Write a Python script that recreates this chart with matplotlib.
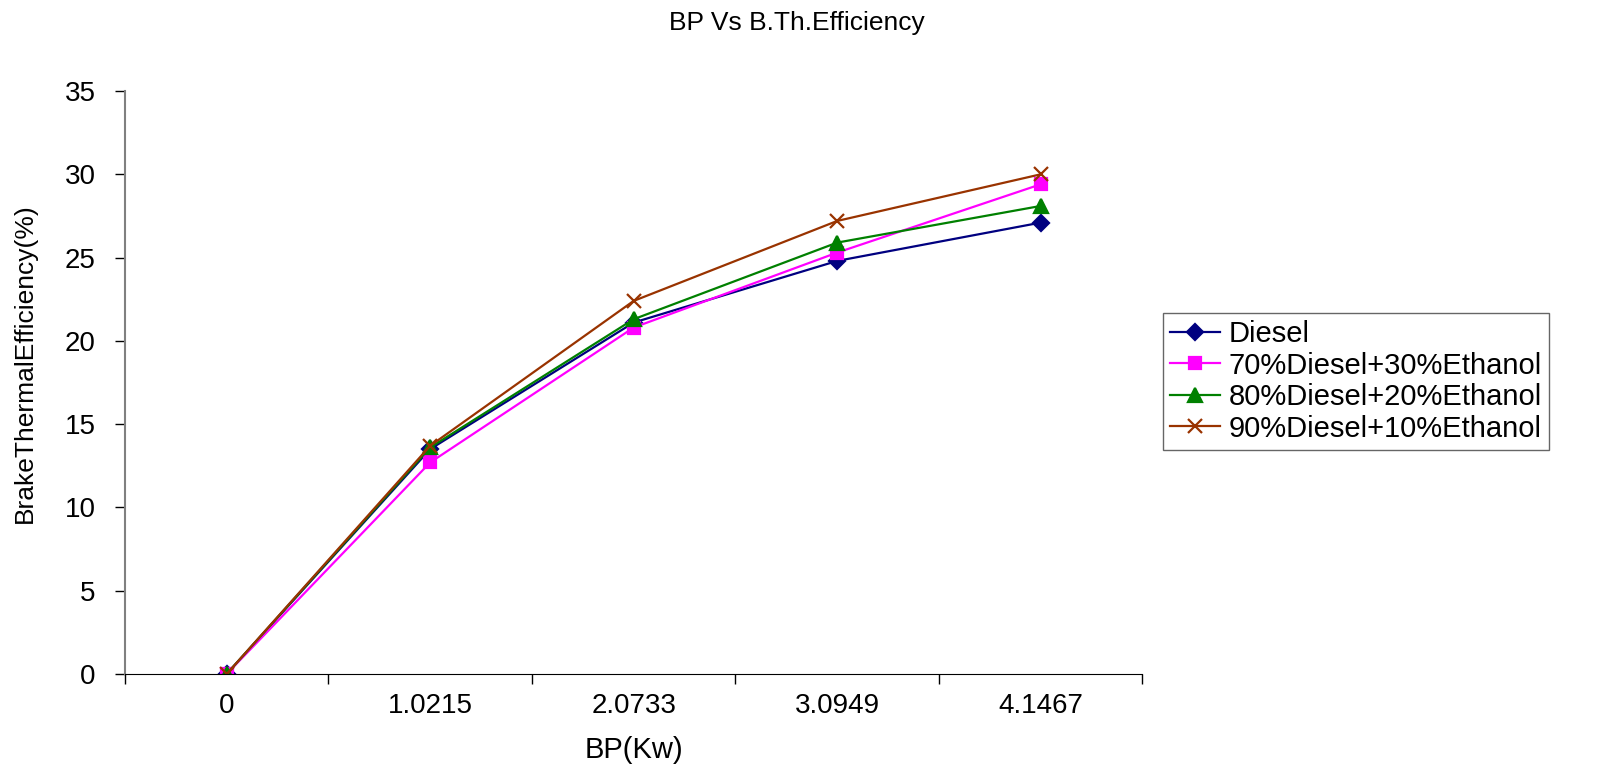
import matplotlib
matplotlib.use("Agg")
import matplotlib.pyplot as plt

plt.rcParams['font.family'] = ['Liberation Sans', 'DejaVu Sans']

# BP (Kw) categories and brake thermal efficiency (%) per fuel blend
bp_labels = ["0", "1.0215", "2.0733", "3.0949", "4.1467"]
diesel = [0, 13.5, 21.1, 24.8, 27.1]
blend_70_30 = [0, 12.7, 20.8, 25.3, 29.4]
blend_80_20 = [0, 13.6, 21.3, 25.9, 28.1]
blend_90_10 = [0, 13.7, 22.4, 27.2, 30.0]

series = [
    ("Diesel", diesel, "#000080", "D", 8),
    ("70%Diesel+30%Ethanol", blend_70_30, "#FF00FF", "s", 9),
    ("80%Diesel+20%Ethanol", blend_80_20, "#008000", "^", 10),
    ("90%Diesel+10%Ethanol", blend_90_10, "#993300", "x", 10),
]

fig = plt.figure(figsize=(16.1, 7.65), dpi=100)
ax = fig.add_axes([0.0776, 0.119, 0.632, 0.762])

x = list(range(len(bp_labels)))
for name, vals, col, mk, ms in series:
    ax.plot(x, vals, color=col, marker=mk, markersize=ms, linewidth=1.6,
            markeredgewidth=1.6, label=name)

ax.set_xlim(-0.5, len(bp_labels) - 0.5)
ax.set_ylim(0, 35)
ax.set_yticks(range(0, 36, 5))
ax.set_xticks(x)
ax.set_xticklabels(bp_labels, fontsize=20)
ax.tick_params(axis='x', which='major', length=0, pad=14)
ax.set_xticks([i - 0.5 for i in range(len(bp_labels) + 1)], minor=True)
ax.tick_params(axis='x', which='minor', length=7, width=1, direction='out')
ax.tick_params(axis='y', labelsize=20, length=7, width=1, direction='out', pad=14)

for s in ['top', 'right']:
    ax.spines[s].set_visible(False)
ax.spines['left'].set_color('#808080')
ax.spines['left'].set_linewidth(1.5)
ax.spines['bottom'].set_color('black')

ax.set_xlabel("BP(Kw)", fontsize=21, labelpad=12)
ax.set_ylabel("BrakeThermalEfficiency(%)", fontsize=19)
ax.yaxis.set_label_coords(-0.087, 0.534)
fig.suptitle("BP Vs B.Th.Efficiency", fontsize=19, x=0.495, y=0.985)

leg = fig.legend(loc='upper left', bbox_to_anchor=(0.7224, 0.591), fontsize=21,
                 frameon=True, fancybox=False, edgecolor='#404040',
                 handlelength=1.7, borderpad=0.25, labelspacing=0.12,
                 handletextpad=0.3, borderaxespad=0)
leg.get_frame().set_linewidth(1)

fig.savefig("out.png", dpi=100)
